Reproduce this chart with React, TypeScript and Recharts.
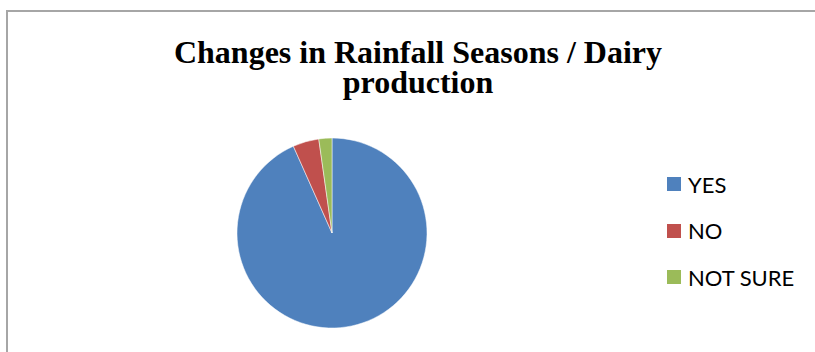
import React from 'react';
import { PieChart, Pie, Cell, Legend } from 'recharts';

const categories = ['YES', 'NO', 'NOT SURE'];
const responses = [84, 4, 2];
const colors = ['#4f81bd', '#c0504d', '#9bbb59'];
const titleLines = ['Changes in Rainfall Seasons / Dairy', 'production'];

const data = categories.map((name, i) => ({ name, value: responses[i] }));

function LegendList() {
  return (
    <div style={{ fontFamily: 'Lato, "Open Sans", sans-serif', fontSize: 22, color: '#000' }}>
      {categories.map((c, i) => (
        <div key={c} style={{ display: 'flex', alignItems: 'center', height: 46.5 }}>
          <span style={{ width: 14, height: 14, background: colors[i], marginRight: 7, display: 'inline-block' }} />
          <span>{c}</span>
        </div>
      ))}
    </div>
  );
}

export default function App() {
  return (
    <div style={{ position: 'absolute', left: 0, top: 0, width: 815, height: 352, overflow: 'hidden', background: '#fff' }}>
      <div style={{ position: 'absolute', left: 6, top: 10, width: 900, height: 400, border: '2px solid #a6a6a6', boxSizing: 'border-box' }} />
      {titleLines.map((line, i) => (
        <div
          key={line}
          style={{
            position: 'absolute',
            left: 0,
            width: 836,
            top: 37 + i * 30,
            height: 30,
            textAlign: 'center',
            fontFamily: '"Liberation Serif", "Times New Roman", serif',
            fontWeight: 'bold',
            fontSize: 32,
            lineHeight: '30px',
          }}
        >
          {line}
        </div>
      ))}
      <div style={{ position: 'absolute', left: 0, top: 0 }}>
        <PieChart width={815} height={352} margin={{ top: 0, right: 0, bottom: 0, left: 0 }}>
          <Pie
            data={data}
            dataKey="value"
            nameKey="name"
            cx={332}
            cy={233}
            outerRadius={95}
            startAngle={90}
            endAngle={-270}
            stroke="#ffffff"
            strokeWidth={0.5}
            isAnimationActive={false}
          >
            {data.map((d, i) => (
              <Cell key={d.name} fill={colors[i]} />
            ))}
          </Pie>
          <Legend
            layout="vertical"
            align="right"
            verticalAlign="top"
            wrapperStyle={{ left: 667, top: 161, width: 148 }}
            content={() => <LegendList />}
          />
        </PieChart>
      </div>
    </div>
  );
}
